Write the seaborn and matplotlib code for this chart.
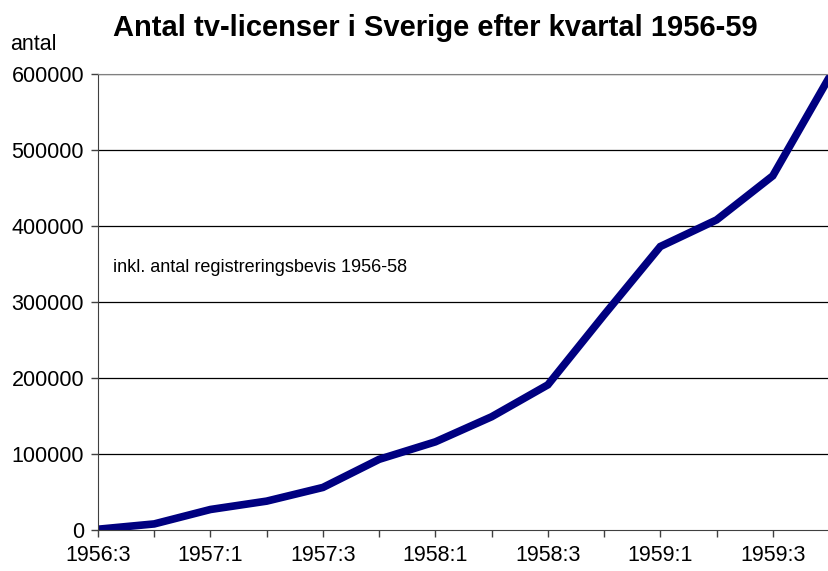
import numpy as np
import pandas as pd
import matplotlib
matplotlib.use("Agg")
import matplotlib.pyplot as plt
import seaborn as sns

# kvartal 1956:3 - 1959:4
quarters = ["1956:3", "1956:4", "1957:1", "1957:2", "1957:3", "1957:4", "1958:1",
            "1958:2", "1958:3", "1958:4", "1959:1", "1959:2", "1959:3", "1959:4"]
licenses = [1000, 8000, 27000, 38000, 56000, 93000, 116000,
            149000, 191000, 283000, 373000, 408000, 466000, 595000]
yticks = [0, 100000, 200000, 300000, 400000, 500000, 600000]

df = pd.DataFrame({"pos": np.arange(len(quarters)), "antal": licenses})

sns.set_style("white")
plt.rcParams["font.family"] = ["Liberation Sans", "DejaVu Sans"]
plt.rcParams["text.color"] = "black"
plt.rcParams["xtick.color"] = "black"
plt.rcParams["ytick.color"] = "black"

fig = plt.figure(figsize=(8.29, 5.71), dpi=100)
ax = fig.add_axes([98 / 829, 1 - 530 / 571, 1 - 98 / 829, (530 - 74) / 571])

sns.lineplot(data=df, x="pos", y="antal", ax=ax, color="#000080", linewidth=5.5,
             solid_joinstyle="miter")

ax.set_xlim(0, 12.94)
ax.set_ylim(0, 600000)
ax.set_yticks(yticks)
ax.set_yticklabels([str(v) for v in yticks], fontsize=15.5)
ax.set_xticks(df["pos"])
ax.set_xticklabels([q if i % 2 == 0 else "" for i, q in enumerate(quarters)], fontsize=15.5)
ax.tick_params(axis="both", direction="out", length=5, width=1, color="#404040",
               bottom=True, left=True, labelcolor="black")
ax.tick_params(axis="y", pad=5)
ax.tick_params(axis="x", pad=6)

for v in yticks[1:]:
    ax.axhline(v, color="black", linewidth=0.9, zorder=0)

ax.spines["right"].set_visible(False)
ax.spines["top"].set_color("#808080")
ax.spines["left"].set_color("#404040")
ax.spines["bottom"].set_color("#404040")

ax.set_xlabel("")
ax.set_ylabel("")

fig.text(435 / 829, 1 - 28 / 571, "Antal tv-licenser i Sverige efter kvartal 1956-59",
         ha="center", va="center", fontsize=21, fontweight="bold", color="black")
fig.text(10 / 829, 1 - 45 / 571, "antal", ha="left", va="center", fontsize=15.5, color="black")
ax.text(0.27, 346000, "inkl. antal registreringsbevis 1956-58", ha="left", va="center",
        fontsize=13, color="black")

fig.savefig("out.png", dpi=100)
